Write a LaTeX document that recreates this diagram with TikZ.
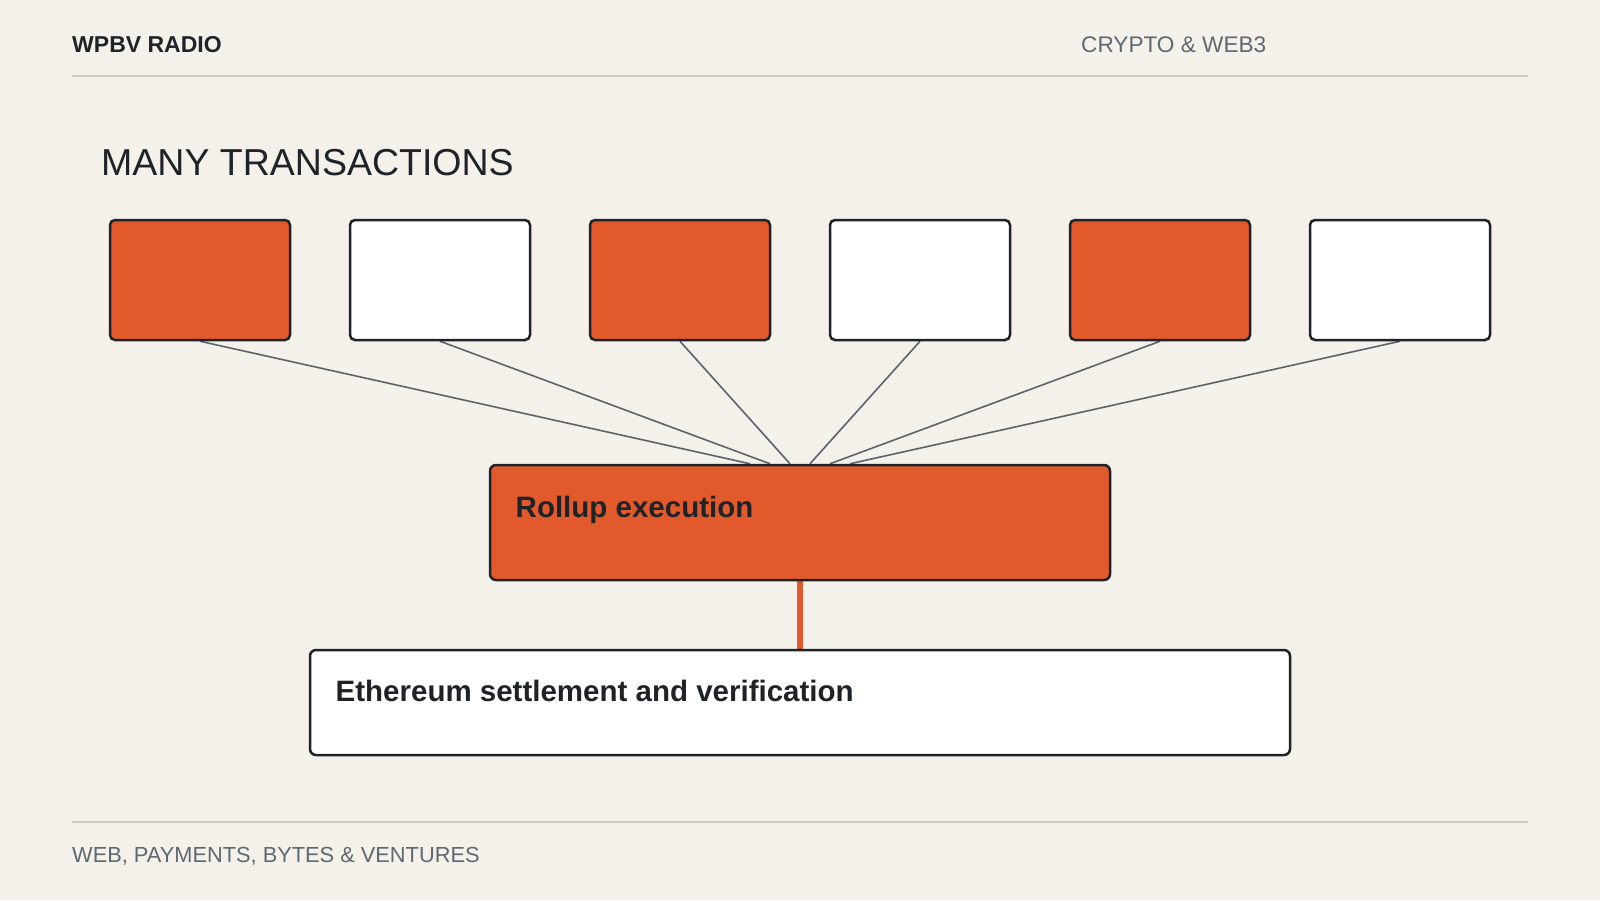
\documentclass[tikz,border=0pt]{standalone}
\usepackage{fontspec}
\setmainfont{Liberation Sans}
\usetikzlibrary{backgrounds}
\definecolor{bg}{HTML}{F4F1EA}
\definecolor{ink}{HTML}{1F2328}
\definecolor{accent}{HTML}{E25A2B}
\definecolor{muted}{HTML}{5F6870}
\definecolor{rulec}{HTML}{CFCDC5}
\definecolor{wire}{HTML}{5C636A}
\begin{document}
\begin{tikzpicture}[x=1pt,y=-1pt,
  txbox/.style={draw=ink, line width=2.5pt, rounded corners=5pt, minimum width=180pt, minimum height=120pt, inner sep=0pt},
  hot/.style={txbox, fill=accent},
  cold/.style={txbox, fill=white},
  bigbox/.style={draw=ink, line width=2.5pt, rounded corners=6pt, inner sep=0pt},
  wireline/.style={draw=wire, line width=1.6pt},
  ruleline/.style={draw=rulec, line width=2pt},
  label/.style={anchor=base west, inner sep=0pt, text=ink}]
\begin{scope}[on background layer]
\fill[bg] (0,0) rectangle (1600,900);
\end{scope}
\useasboundingbox (0,0) rectangle (1600,900);

% header / footer
\coordinate (hl) at (72,76);
\coordinate (hr) at (1528,76);
\coordinate (fl) at (72,822);
\coordinate (fr) at (1528,822);
\draw[ruleline] (hl) -- (hr);
\draw[ruleline] (fl) -- (fr);
\node[label, font=\fontsize{23}{26}\selectfont\bfseries] (brand) at (72,52.3) {WPBV RADIO};
\node[label, text=muted, font=\fontsize{22.6}{26}\selectfont] (topic) at (1081,52.3) {CRYPTO \& WEB3};
\node[label, text=muted, font=\fontsize{21.8}{26}\selectfont] (foot) at (72,862.3) {WEB, PAYMENTS, BYTES \& VENTURES};

% title
\node[label, font=\fontsize{37.5}{42}\selectfont] (title) at (101,175.7) {MANY TRANSACTIONS};

% transactions
\node[hot]  (t1) at (200,280) {};
\node[cold] (t2) at (440,280) {};
\node[hot]  (t3) at (680,280) {};
\node[cold] (t4) at (920,280) {};
\node[hot]  (t5) at (1160,280) {};
\node[cold] (t6) at (1400,280) {};

% rollup and settlement
\node[bigbox, fill=accent, minimum width=620pt, minimum height=115pt] (roll) at (800,522.5) {};
\node[bigbox, fill=white, minimum width=980pt, minimum height=105pt] (eth) at (800,702.5) {};
\node[label, font=\fontsize{29.5}{34}\selectfont\bfseries] (rolltxt) at (515.5,517) {Rollup execution};
\node[label, font=\fontsize{29.5}{34}\selectfont\bfseries] (ethtxt) at (335.5,701) {Ethereum settlement and verification};

\begin{scope}[on background layer]
\draw[wireline] (t1.south) -- ([xshift=-50pt]roll.north);
\draw[wireline] (t2.south) -- ([xshift=-30pt]roll.north);
\draw[wireline] (t3.south) -- ([xshift=-10pt]roll.north);
\draw[wireline] (t4.south) -- ([xshift=10pt]roll.north);
\draw[wireline] (t5.south) -- ([xshift=30pt]roll.north);
\draw[wireline] (t6.south) -- ([xshift=50pt]roll.north);
\draw[draw=accent, line width=6.5pt] (roll.south) -- (eth.north);
\end{scope}
\end{tikzpicture}
\end{document}
